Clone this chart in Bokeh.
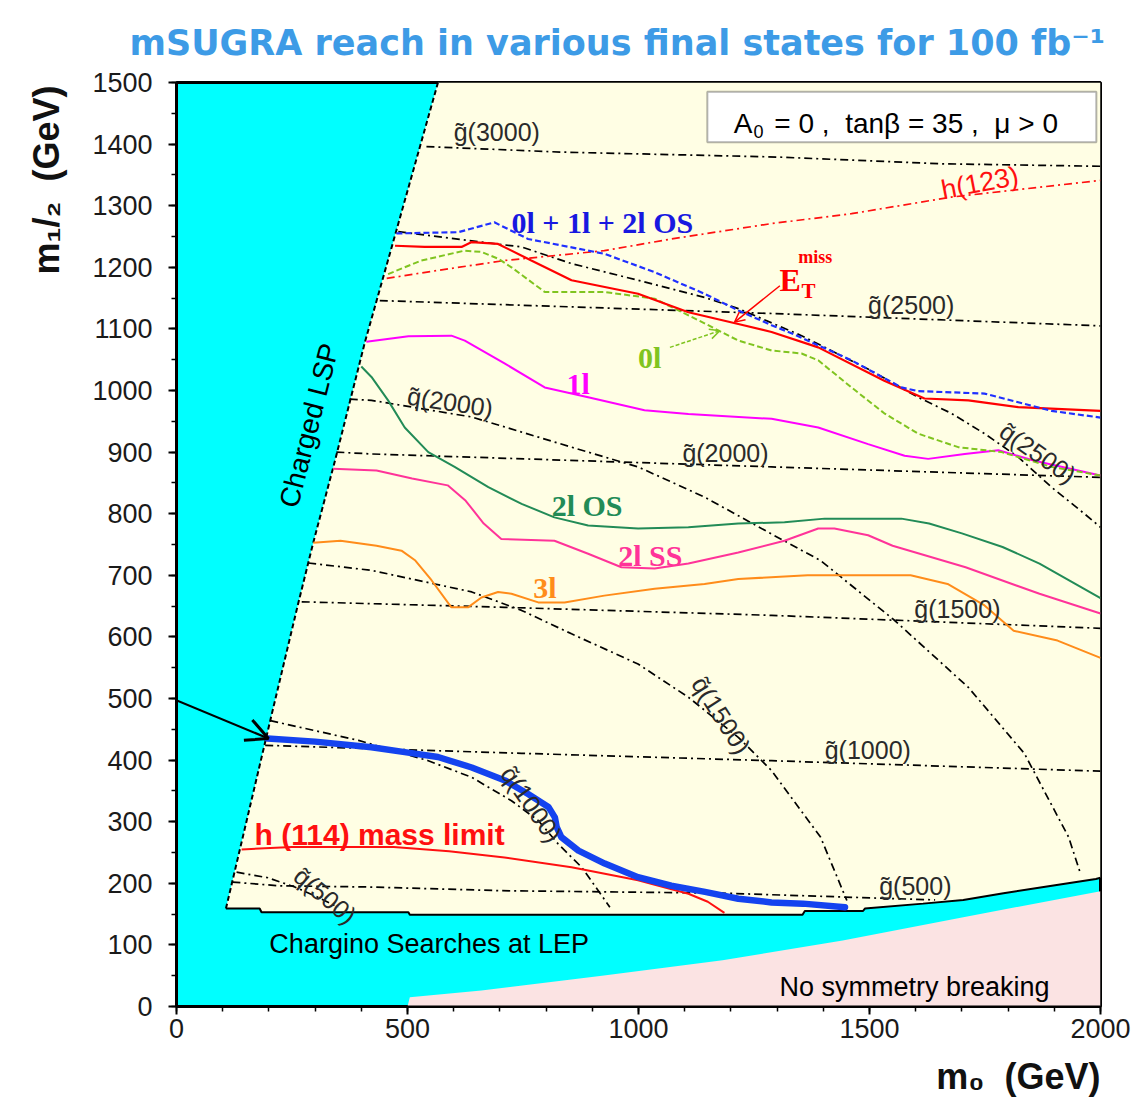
import math
from bokeh.plotting import figure
from bokeh.models import (Range1d, Label, Arrow, OpenHead, BoxAnnotation, SingleIntervalTicker,
                          Title)
from bokeh.embed import file_html
from bokeh.resources import INLINE

# ---------------- data (m0, m1/2 in GeV) ----------------
# region boundaries
lsp_x = [107, 206, 263, 296, 343, 408, 473, 566]
lsp_y = [159, 474, 653, 753, 886, 1079, 1252, 1500]

lep_x = [107, 180, 184, 502, 505, 1355, 1360, 1486, 1490, 1616, 1703, 1790, 1877, 1990, 2000]
lep_y = [159, 159, 153, 153, 149, 149, 155, 155, 159, 167, 173, 184, 194, 207, 209]

ewsb_x = [500, 505, 660, 921, 1182, 1442, 1703, 2000]
ewsb_y = [0, 15, 26, 50, 75, 107, 145, 187]

# reach curves
all_x = [476, 610, 688, 761, 926, 1035, 1143, 1216, 1288, 1331, 1461, 1569, 1605, 1749, 1822, 1894, 2000]
all_y = [1255, 1257, 1273, 1246, 1222, 1192, 1157, 1130, 1106, 1093, 1049, 1005, 999, 995, 981, 967, 956]

etmiss_x = [473, 537, 617, 639, 696, 768, 855, 999, 1108, 1216, 1288, 1389, 1532, 1619, 1714, 1822, 2000]
etmiss_y = [1235, 1233, 1233, 1241, 1238, 1211, 1179, 1157, 1127, 1108, 1095, 1070, 1016, 987, 984, 973, 967]

zerol_x = [458, 530, 623, 660, 696, 725, 797, 926, 1035, 1143, 1216, 1288, 1353, 1389, 1461, 1532, 1605, 1692, 1786, 1894, 2000]
zerol_y = [1189, 1211, 1227, 1225, 1214, 1200, 1160, 1160, 1149, 1109, 1081, 1065, 1060, 1049, 1005, 963, 930, 908, 900, 876, 862]

h123_x = [455, 566, 710, 926, 1071, 1288, 1461, 1677, 2000]
h123_y = [1182, 1195, 1211, 1227, 1246, 1271, 1287, 1314, 1341]

onel_x = [411, 502, 595, 624, 710, 797, 891, 1013, 1108, 1288, 1389, 1497, 1576, 1627, 1706, 1779, 1857, 2000]
onel_y = [1079, 1088, 1089, 1081, 1044, 1005, 989, 968, 962, 954, 940, 913, 894, 889, 897, 903, 886, 862]

twolos_x = [400, 422, 458, 494, 545, 602, 675, 747, 818, 891, 999, 1108, 1216, 1316, 1403, 1569, 1629, 1700, 1788, 1868, 2000]
twolos_y = [1039, 1022, 984, 940, 900, 876, 843, 816, 794, 781, 776, 778, 784, 786, 792, 792, 784, 768, 746, 719, 663]

twolss_x = [339, 433, 510, 587, 626, 665, 703, 818, 891, 963, 1035, 1108, 1216, 1316, 1389, 1424, 1497, 1550, 1708, 1868, 2000]
twolss_y = [873, 870, 857, 846, 821, 784, 759, 756, 735, 713, 711, 719, 737, 756, 776, 776, 765, 748, 713, 670, 638]

threel_x = [296, 355, 433, 487, 517, 552, 595, 631, 660, 696, 725, 783, 840, 926, 1035, 1143, 1216, 1366, 1589, 1669, 1749, 1812, 1907, 2000]
threel_y = [753, 756, 748, 740, 724, 692, 648, 648, 664, 673, 670, 656, 656, 667, 678, 686, 694, 700, 700, 686, 651, 610, 594, 566]

h114_x = [141, 250, 470, 590, 710, 855, 999, 1108, 1150, 1186]
h114_y = [255, 259, 259, 252, 242, 226, 205, 183, 170, 152]

early_x = [197, 300, 422, 494, 566, 639, 711, 761, 805, 819, 823, 833, 870, 927, 999, 1071, 1144, 1216, 1288, 1356, 1447]
early_y = [435, 430, 421, 413, 405, 388, 367, 345, 324, 307, 291, 275, 253, 232, 210, 196, 186, 175, 169, 167, 161]

# gluino mass contours
g3000_x = [541, 833, 1299, 1658, 2000]; g3000_y = [1396, 1387, 1379, 1368, 1364]
g2500_x = [440, 1288, 2000];            g2500_y = [1146, 1125, 1105]
g2000_x = [346, 422, 1288, 2000];       g2000_y = [900, 897, 876, 859]
g1500_x = [271, 710, 1288, 2000];       g1500_y = [657, 648, 635, 614]
g1000_x = [192, 747, 1288, 2000];       g1000_y = [424, 411, 399, 382]
g500_x = [121, 220, 415, 703, 1182, 1642]; g500_y = [202, 196, 194, 188, 184, 173]

# squark mass contours
q2500_x = [480, 660, 747, 855, 999, 1143, 1216, 1353, 1504, 1605, 1677, 1749, 1822, 1894, 1965, 2000]
q2500_y = [1258, 1241, 1233, 1206, 1179, 1151, 1133, 1089, 1032, 989, 963, 930, 892, 843, 800, 778]
q2000_x = [375, 422, 639, 855, 999, 1143, 1288, 1394, 1554, 1714, 1835, 1931, 1957]
q2000_y = [986, 984, 957, 908, 876, 827, 767, 724, 627, 518, 411, 275, 215]
q1500_x = [285, 422, 639, 747, 855, 999, 1108, 1216, 1288, 1394, 1451]
q1500_y = [720, 708, 673, 643, 605, 556, 502, 437, 383, 275, 172]
q1000_x = [203, 394, 545, 639, 725, 783, 826, 877, 913, 938]
q1000_y = [464, 432, 399, 372, 334, 302, 264, 226, 188, 161]
q500_x = [130, 198, 256, 307, 350]
q500_y = [218, 209, 194, 177, 161]

# contour labels: text, m0, m1/2, angle(rad)
contour_labels = [
    ("g\u0303(3000)", 600, 1420, 0.0),
    ("g\u0303(2500)", 1497, 1138, 0.0),
    ("q\u0303(2000)", 500, 992, -0.15),
    ("g\u0303(2000)", 1095, 899, 0.0),
    ("q\u0303(2500)", 1788, 939, -0.61),
    ("g\u0303(1500)", 1597, 645, 0.0),
    ("q\u0303(1500)", 1129, 532, -1.0),
    ("g\u0303(1000)", 1403, 416, 0.0),
    ("q\u0303(1000)", 715, 386, -0.96),
    ("g\u0303(500)", 1521, 196, 0.0),
    ("q\u0303(500)", 262, 218, -0.70),
]

# curve labels: text, m0, m1/2, colour
curve_labels = [
    ("0l + 1l + 2l OS", 725, 1273, "#1818e0"),
    ("0l", 999, 1054, "#80c420"),
    ("1l", 844, 1011, "#ff00ff"),
    ("2l OS", 812, 813, "#228b57"),
    ("2l SS", 956, 732, "#ff3399"),
    ("3l", 772, 681, "#ff8c1a"),
]

xlabel_text = "m\u2080\u00a0 (GeV)"
ylabel_text = "m\u2081/\u2082\u00a0 (GeV)"

# ---------------- figure ----------------
p = figure(frame_width=924, frame_height=924,
           x_range=Range1d(0, 2000), y_range=Range1d(0, 1500),
           output_backend="svg", toolbar_location=None,
           min_border_left=175, min_border_right=36,
           min_border_top=82, min_border_bottom=112)
p.background_fill_color = "#00ffff"
p.border_fill_color = "white"
p.outline_line_color = "black"
p.outline_line_width = 3
p.grid.visible = False

p.title.text = "mSUGRA reach in various final states for 100 fb\u207b\u00b9"
p.title.text_font = "DejaVu Sans"
p.title.text_font_size = "35px"
p.title.text_font_style = "bold"
p.title.text_color = "#3d9be6"
p.title.align = "left"
p.title.offset = -47
p.title.standoff = 39

xa = p.xaxis[0]
ya = p.yaxis[0]
for ax in (xa, ya):
    ax.axis_line_color = "black"
    ax.axis_line_width = 2
    ax.major_tick_line_color = "black"
    ax.major_tick_line_width = 2
    ax.major_tick_out = 8
    ax.major_tick_in = 0
    ax.minor_tick_line_color = "black"
    ax.minor_tick_line_width = 1.5
    ax.minor_tick_out = 5
    ax.minor_tick_in = 0
    ax.major_label_text_font = "Liberation Sans"
    ax.major_label_text_font_size = "27px"
    ax.major_label_text_color = "#1a1a1a"
xa.ticker = SingleIntervalTicker(interval=500, num_minor_ticks=5)
ya.ticker = SingleIntervalTicker(interval=100, num_minor_ticks=2)
xa.major_label_standoff = 4
ya.major_label_standoff = 16

# axis titles, aligned to the far end of each axis
p.add_layout(Title(text=xlabel_text, align="right", offset=0, standoff=27,
                   text_font="Liberation Sans", text_font_size="36px",
                   text_font_style="bold", text_color="#111111"), "below")
p.add_layout(Title(text=ylabel_text, align="right", offset=3, standoff=46,
                   text_font="Liberation Sans", text_font_size="36px",
                   text_font_style="bold", text_color="#111111"), "left")

# regions
cream_x = lsp_x + [2000] + lep_x[::-1]
cream_y = lsp_y + [1500] + lep_y[::-1]
p.patch(cream_x, cream_y, fill_color="#fffee4", line_color=None)
p.patch(ewsb_x + [2000], ewsb_y + [0], fill_color="#fbe3e3", line_color=None)
p.line(lsp_x, lsp_y, line_color="black", line_width=2, line_dash="5 3")
p.line(lep_x, lep_y, line_color="black", line_width=2)

# contours
cdash = "8 4 2 4"
for xs, ys in [(g3000_x, g3000_y), (g2500_x, g2500_y), (g2000_x, g2000_y),
               (g1500_x, g1500_y), (g1000_x, g1000_y), (g500_x, g500_y),
               (q2500_x, q2500_y), (q2000_x, q2000_y), (q1500_x, q1500_y),
               (q1000_x, q1000_y), (q500_x, q500_y)]:
    p.line(xs, ys, line_color="black", line_width=1.7, line_dash=cdash)

# reach curves
p.line(h123_x, h123_y, line_color="#ff1010", line_width=1.7, line_dash="8 4 2 4")
p.line(h114_x, h114_y, line_color="#ff1010", line_width=2)
p.line(threel_x, threel_y, line_color="#ff8c1a", line_width=2)
p.line(twolss_x, twolss_y, line_color="#ff3399", line_width=2)
p.line(twolos_x, twolos_y, line_color="#228b57", line_width=2)
p.line(onel_x, onel_y, line_color="#ff00ff", line_width=2)
p.line(zerol_x, zerol_y, line_color="#80c420", line_width=2, line_dash="6 3")
p.line(etmiss_x, etmiss_y, line_color="#ff0000", line_width=2.2)
p.line(all_x, all_y, line_color="#2030ff", line_width=2.2, line_dash="6 3")
p.line(early_x, early_y, line_color="#1443ef", line_width=6.5, line_cap="round", line_join="round")

# annotations
p.add_layout(BoxAnnotation(left=1149, right=1991, bottom=1403, top=1485,
                           fill_color="white", fill_alpha=1.0,
                           line_color="black", line_width=2, level="annotation"))

def lab(text, x, y, size, color="black", font="Liberation Sans", style="normal", angle=0.0):
    p.add_layout(Label(x=x, y=y, text=text, text_font=font, text_font_size=size,
                       text_font_style=style, text_color=color, angle=angle,
                       text_align="left", text_baseline="alphabetic"))

lab("A", 1206, 1433, "28px")
lab("0", 1249, 1420, "18px")
lab("= 0 ,\u00a0 tan\u03b2 = 35 ,\u00a0 \u03bc > 0", 1294, 1433, "28px")

for t, x, y, a in contour_labels:
    lab(t, x, y, "25px", color="#2a2a2a", angle=a)

for t, x, y, c in curve_labels:
    lab(t, x, y, "30px", color=c, font="Liberation Serif", style="bold")

lab("E", 1305, 1179, "32px", color="#ff0000", font="Liberation Serif", style="bold")
lab("T", 1353, 1162, "21px", color="#ff0000", font="Liberation Serif", style="bold")
lab("miss", 1346, 1216, "18px", color="#ff0000", font="Liberation Serif", style="bold")
lab("h(123)", 1656, 1325, "27px", color="#ff1010", angle=0.19)
lab("h (114) mass limit", 169, 279, "30px", color="#ff1010", style="bold")
lab("Chargino Searches at LEP", 201, 101, "27px")
lab("No symmetry breaking", 1305, 31, "27px")
lab("Charged LSP", 242, 811, "28px", angle=1.32)

p.add_layout(Arrow(end=OpenHead(size=10, line_color="#ff0000", line_width=1.5),
                   x_start=1306, y_start=1170, x_end=1208, y_end=1111,
                   line_color="#ff0000", line_width=1.5))
p.add_layout(Arrow(end=OpenHead(size=10, line_color="#80c420", line_width=1.5),
                   x_start=1068, y_start=1070, x_end=1176, y_end=1097,
                   line_color="#80c420", line_width=1.5, line_dash="4 2"))
p.add_layout(Arrow(end=OpenHead(size=22, line_color="black", line_width=3),
                   x_start=-379, y_start=615, x_end=199, y_end=435,
                   line_color="black", line_width=2.2))

open("out.html", "w").write(file_html(p, INLINE))
